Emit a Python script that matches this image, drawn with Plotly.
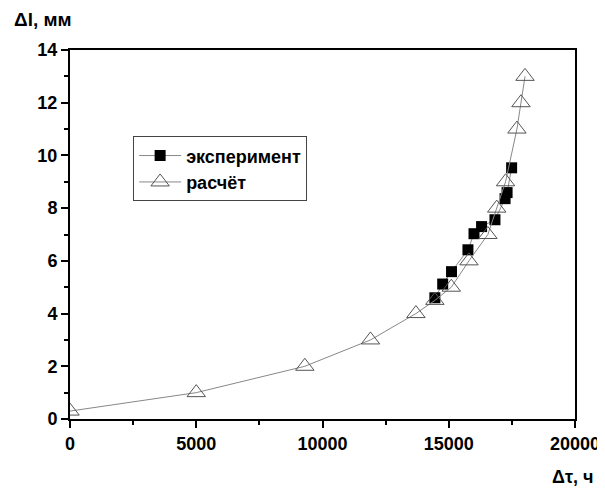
import plotly.graph_objects as go

# calculated curve (расчёт)
calc_x = [0, 5000, 9300, 11900, 13700, 14450, 15100, 15800, 16550, 16900, 17250, 17700, 17860, 18020]
calc_y = [0.3, 1.0, 2.0, 3.0, 4.0, 4.5, 5.0, 6.0, 7.0, 8.0, 9.0, 11.0, 12.0, 13.0]

# experiment (эксперимент)
exp_x = [14450, 14760, 15110, 15760, 16000, 16300, 16830, 17230, 17310, 17490]
exp_y = [4.6, 5.12, 5.59, 6.42, 7.03, 7.3, 7.56, 8.36, 8.59, 9.53]

FONT = "Liberation Sans, Arial"

fig = go.Figure()
fig.add_trace(go.Scatter(
    x=exp_x, y=exp_y, mode="lines+markers", name="эксперимент",
    line=dict(color="#888888", width=1),
    marker=dict(symbol="square", size=11, color="black", line=dict(color="black", width=0)),
))
fig.add_trace(go.Scatter(
    x=calc_x, y=calc_y, mode="lines+markers", name="расчёт",
    line=dict(color="#888888", width=1),
    marker=dict(symbol="triangle-up-open", size=16, color="#555555", line=dict(width=1)),
))

fig.update_layout(
    width=605, height=490,
    margin=dict(l=62, r=38, t=42, b=79),
    paper_bgcolor="white", plot_bgcolor="white",
    font=dict(family=FONT, color="black"),
    showlegend=True,
    legend=dict(
        x=0.125, y=0.766, xanchor="left", yanchor="top",
        bordercolor="#444444", borderwidth=1, bgcolor="white",
        font=dict(family=FONT, size=18, color="black", weight="bold"),
        tracegroupgap=0, itemwidth=42,
    ),
    xaxis=dict(
        range=[0, 20000], tickvals=[0, 5000, 10000, 15000, 20000],
        ticktext=["0", "5000", "10000", "15000", "20000"],
        showgrid=False, zeroline=False,
        showline=True, linecolor="black", linewidth=2, mirror=True,
        ticks="outside", ticklen=7, tickwidth=2, tickcolor="black",
        minor=dict(dtick=2500, ticks="outside", ticklen=4, tickwidth=2, tickcolor="black"),
        tickfont=dict(family=FONT, size=18, color="black", weight="bold"),
    ),
    yaxis=dict(
        range=[0, 14], dtick=2,
        showgrid=False, zeroline=False,
        showline=True, linecolor="black", linewidth=2, mirror=True,
        ticks="outside", ticklen=7, tickwidth=2, tickcolor="black",
        minor=dict(dtick=1, ticks="outside", ticklen=4, tickwidth=2, tickcolor="black"),
        tickfont=dict(family=FONT, size=18, color="black", weight="bold"),
    ),
    annotations=[
        dict(text="<b>Δl, мм</b>", xref="paper", yref="paper", x=-0.115, y=1.082,
             xanchor="left", yanchor="middle", showarrow=False,
             font=dict(family=FONT, size=19, color="black")),
        dict(text="<b>Δτ, ч</b>", xref="paper", yref="paper", x=1.04, y=-0.158,
             xanchor="right", yanchor="middle", showarrow=False,
             font=dict(family=FONT, size=18, color="black")),
    ],
)

fig.write_html("out.html")
